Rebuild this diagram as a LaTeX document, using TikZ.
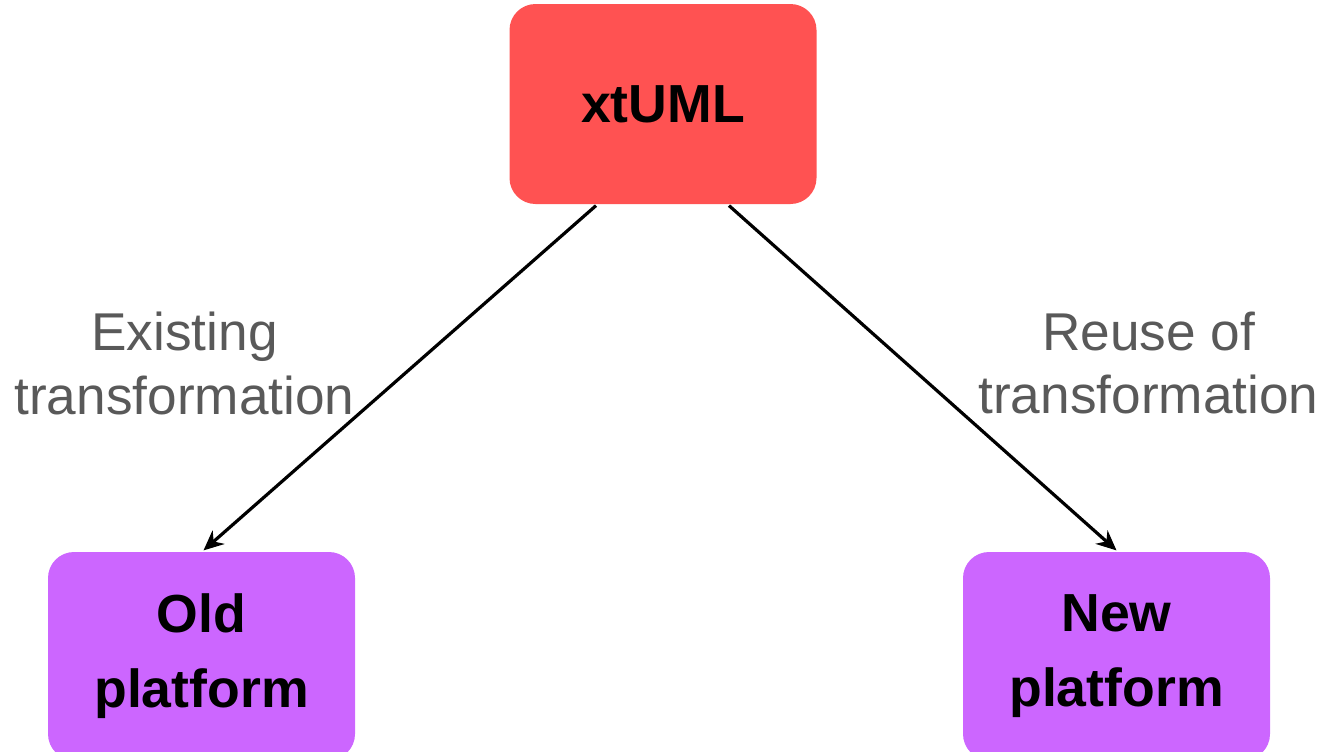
\documentclass[tikz,border=0pt]{standalone}
\usepackage{fontspec}
\setmainfont{Liberation Sans}
\usepackage{tikz}
\usetikzlibrary{arrows.meta}
\usepackage{xcolor}
\definecolor{modelred}{HTML}{FF5252}
\definecolor{platpurple}{HTML}{CC66FF}
\definecolor{labelgray}{HTML}{595959}

\begin{document}
\begin{tikzpicture}[x=1pt,y=1pt,line width=1.6pt,
  box/.style={rectangle,rounded corners=13pt,minimum width=153.5pt,minimum height=100pt,align=center,font=\bfseries\fontsize{26.8}{37.5}\selectfont},
  note/.style={align=center,text=labelgray,font=\fontsize{26.6}{32}\selectfont}]
\useasboundingbox (0,0) rectangle (661.5,-375.5);
\node [box,fill=modelred] (xtuml) at (331.5,-52) {xtUML};
\node [box,fill=platpurple,minimum height=104pt] (old) at (100.75,-328) {Old\\platform};
\node [box,fill=platpurple,minimum height=104pt] (new) at (558.25,-328) {New\\platform};
\node [note] (existing) at (92.25,-181.5) {Existing\\transformation};
\node [note] (reuse) at (574.25,-181.5) {Reuse of\\transformation};

\draw [-{Stealth[length=10pt,width=9pt]}] ([xshift=-33.5pt]xtuml.south) -- ([xshift=1pt]old.north);
\draw [-{Stealth[length=10pt,width=9pt]}] ([xshift=33pt]xtuml.south) -- (new.north);
\end{tikzpicture}
\end{document}
